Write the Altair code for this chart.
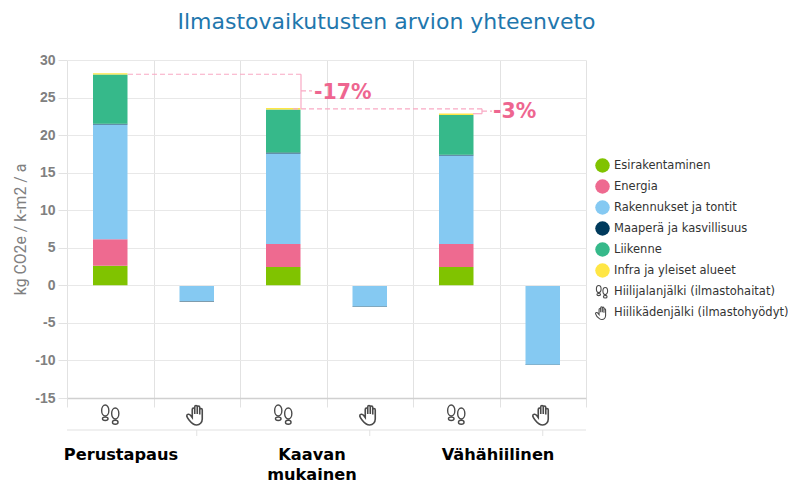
from itertools import accumulate
import altair as alt
import pandas as pd

# ---- data
bar_keys = ["P-jalan", "P-kaden", "K-jalan", "K-kaden", "V-jalan", "V-kaden"]
foot_keys = ["P-jalan", "K-jalan", "V-jalan"]
hand_keys = ["P-kaden", "K-kaden", "V-kaden"]
series_names = ["Esirakentaminen", "Energia", "Rakennukset ja tontit",
                "Maaperä ja kasvillisuus", "Liikenne", "Infra ja yleiset alueet"]
series_colors = ["#80c300", "#ee6a90", "#85c9f2", "#003a5c", "#36b98a", "#ffe645"]
foot_perus = [2.6, 3.55, 15.25, 0.12, 6.55, 0.18]
foot_kaava = [2.45, 3.05, 12.05, 0.12, 5.75, 0.18]
foot_vaha = [2.45, 3.05, 11.78, 0.1, 5.3, 0.2]
hand_perus = [-2.0, -0.06]
hand_kaava = [-2.7, -0.06]
hand_vaha = [-10.45, -0.06]
hand_gap = -0.1
hand_series = ["Rakennukset ja tontit", "Maaperä ja kasvillisuus"]
y_ticks = [-15, -10, -5, 0, 5, 10, 15, 20, 25, 30]

rows = []
for key, vals in zip(foot_keys, [foot_perus, foot_kaava, foot_vaha]):
    tops = list(accumulate(vals))
    for name, lo, hi in zip(series_names, [0] + tops[:-1], tops):
        rows.append({"key": key, "sarja": name, "y0": lo, "y1": hi})
for key, vals in zip(hand_keys, [hand_perus, hand_kaava, hand_vaha]):
    ends = list(accumulate([hand_gap] + vals))
    for name, lo, hi in zip(hand_series, ends[:-1], ends[1:]):
        rows.append({"key": key, "sarja": name, "y0": lo, "y1": hi})
bars_df = pd.DataFrame(rows)


def ell(cx, cy, rx, ry):
    return (f"M{cx-rx},{cy}A{rx},{ry} 0 1 1 {cx+rx},{cy}"
            f"A{rx},{ry} 0 1 1 {cx-rx},{cy}Z")


FOOT = (ell(-0.5, -0.45, 0.36, 0.55) + ell(-0.5, 0.38, 0.28, 0.17)
        + ell(0.5, -0.15, 0.36, 0.55) + ell(0.5, 0.72, 0.28, 0.2))
HAND = ("M-0.35,0.9C-0.6,0.75 -0.95,0.3 -1,0.1C-1,-0.1 -0.75,-0.15 -0.6,0.05"
        "L-0.45,0.25L-0.45,-0.55C-0.45,-0.75 -0.2,-0.75 -0.2,-0.55L-0.2,-0.1"
        "L-0.2,-0.8C-0.2,-1 0.05,-1 0.05,-0.8L0.05,-0.1L0.05,-0.75"
        "C0.05,-0.95 0.3,-0.95 0.3,-0.75L0.3,-0.05L0.3,-0.5C0.3,-0.7 0.55,-0.7 0.55,-0.5"
        "L0.55,0.4C0.55,0.75 0.3,1 0,1C-0.15,1 -0.25,0.97 -0.35,0.9Z")

ICON = "#4a4a4a"
PINK = "#ee6690"
DASH = "#f9a9c4"
FONT = "DejaVu Sans"

y_scale = alt.Scale(domain=[-15, 30], nice=False, zero=False)
y_axis = alt.Axis(values=y_ticks, title="kg CO2e / k-m2 / a", grid=True,
                  gridColor="#e8e8e8", domain=False, tickColor="#e2e2e2", tickSize=9,
                  labelColor="#808080", labelFont="Liberation Sans", labelFontWeight="bold",
                  labelFontSize=14, labelPadding=3,
                  labelExpr="replace(datum.label, '\u2212', '-')",
                  titleColor="#808080", titleFont="Roboto", titleFontWeight="normal",
                  titleFontSize=15.8, titlePadding=6)

x_enc = alt.X("key:N", scale=alt.Scale(domain=bar_keys, paddingInner=0, paddingOuter=0),
              axis=alt.Axis(labels=False, title=None, tickBand="extent", grid=True,
                            gridColor="#e2e2e2", tickColor="#e2e2e2", tickSize=9,
                            domainColor="#d0d0d0", domainWidth=1.5))
bars = alt.Chart(bars_df).mark_bar(width=34.5).encode(
    x=x_enc,
    y=alt.Y("y0:Q", scale=y_scale, axis=y_axis),
    y2="y1:Q",
    color=alt.Color("sarja:N", scale=alt.Scale(domain=series_names, range=series_colors),
                    legend=alt.Legend(orient="none", legendX=528, legendY=98, title=None,
                                      symbolType="circle", symbolSize=210, symbolStrokeWidth=0,
                                      labelFont=FONT, labelFontSize=11.5, labelColor="#333333",
                                      labelOffset=4, rowPadding=6, labelLimit=200)),
    order=alt.Order("y0:Q"),
)


def hrule(x0, x1, val, color=DASH, dash=(5, 3)):
    return alt.Chart().mark_rule(color=color, strokeDash=list(dash), strokeWidth=1.2).encode(
        x=alt.value(x0), x2=alt.value(x1), y=alt.Y(datum=val, scale=y_scale, axis=y_axis))


def vrule(px, v0, v1):
    return alt.Chart().mark_rule(color=DASH, strokeWidth=1.2).encode(
        x=alt.value(px), y=alt.Y(datum=v0, scale=y_scale, axis=y_axis), y2=alt.Y2(datum=v1))


def note(px, val, txt):
    return alt.Chart().mark_text(text=txt, align="left", baseline="middle", color=PINK,
                                 font=FONT, fontWeight="bold", fontSize=20.5).encode(
        x=alt.value(px), y=alt.Y(datum=val, scale=y_scale, axis=y_axis))


connectors = [
    hrule(61, 234, 28.1), vrule(234, 28.1, 23.5), hrule(234, 245, 25.9),
    hrule(226, 415, 23.5), hrule(406, 415, 22.85, dash=(9, 0)), vrule(415, 23.5, 22.85),
    hrule(415, 425, 23.2),
    note(247, 25.6, "-17%"), note(426, 23.05, "-3%"),
]

icons = [
    alt.Chart(pd.DataFrame({"key": foot_keys})).mark_point(
        shape=FOOT, size=400, stroke=ICON, strokeWidth=1.4, fill="#ffffff", fillOpacity=0,
        opacity=1).encode(x=alt.X("key:N"), y=alt.value(355)),
    alt.Chart(pd.DataFrame({"key": hand_keys})).mark_point(
        shape=HAND, size=400, stroke=ICON, strokeWidth=1.6, fill="#ffffff", fillOpacity=0,
        opacity=1).encode(x=alt.X("key:N"), y=alt.value(355)),
]

lower = [
    alt.Chart().mark_rule(color="#e2e2e2", strokeWidth=1.2).encode(
        x=alt.value(0), x2=alt.value(519), y=alt.value(370)),
    alt.Chart(pd.DataFrame({"key": hand_keys})).mark_rule(color="#e2e2e2", strokeWidth=1).encode(
        x=alt.X("key:N"), y=alt.value(370), y2=alt.value(376)),
]


def group_label(px, py, txt):
    return alt.Chart().mark_text(text=txt, align="center", baseline="middle", color="#000000",
                                 font=FONT, fontWeight="bold", fontSize=16.2).encode(
        x=alt.value(px), y=alt.value(py))


groups = [
    group_label(54, 395, "Perustapaus"),
    group_label(245, 395, "Kaavan"),
    group_label(245, 415, "mukainen"),
    group_label(431, 395, "Vähähiilinen"),
]


def legend_row(py, shape, txt):
    return [
        alt.Chart().mark_point(shape=shape, size=170, stroke=ICON, strokeWidth=1.1, fillOpacity=0,
                               opacity=1).encode(x=alt.value(535), y=alt.value(py)),
        alt.Chart().mark_text(text=txt, align="left", baseline="middle", color="#333333",
                              font=FONT, fontSize=11.5).encode(x=alt.value(547), y=alt.value(py)),
    ]


legend_extra = (legend_row(232, FOOT, "Hiilijalanjälki (ilmastohaitat)")
                + legend_row(253, HAND, "Hiilikädenjälki (ilmastohyödyt)"))

chart = alt.layer(bars, *connectors, *icons, *lower, *groups, *legend_extra).properties(
    width=519,
    height=338,
    padding={"left": 59, "top": 52, "right": 202, "bottom": 85},
    autosize=alt.AutoSizeParams(type="none"),
    title=alt.TitleParams("Ilmastovaikutusten arvion yhteenveto", anchor="middle", dx=60,
                          font=FONT, fontSize=22, fontWeight="normal", color="#1f77ad", offset=19),
).configure_view(stroke=None)

chart.save("out.html", embed_options={"renderer": "svg", "actions": False})
